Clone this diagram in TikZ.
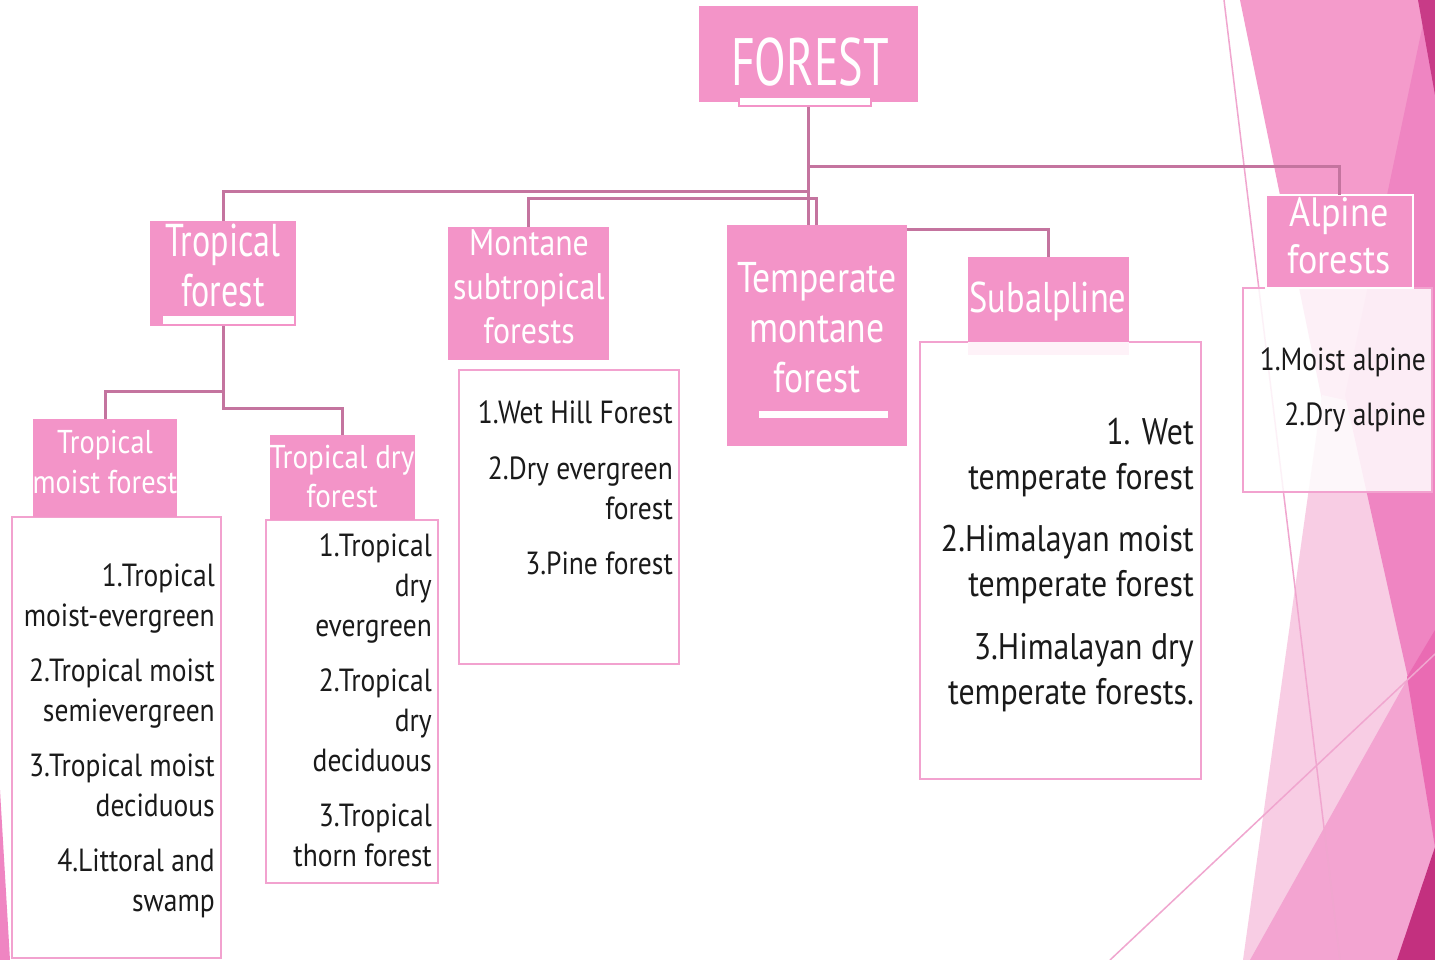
\documentclass[tikz,border=0pt]{standalone}
\usepackage{fontspec}
\setmainfont[FakeStretch=0.74]{PT Sans}
\newfontfamily\fnA[FakeStretch=0.69]{PT Sans}
\newfontfamily\fnB[FakeStretch=0.74]{PT Sans}
\newfontfamily\fnC[FakeStretch=0.80]{PT Sans}
\newfontfamily\fnD[FakeStretch=0.83]{PT Sans}
\newfontfamily\fnE[FakeStretch=0.86]{PT Sans}
\newfontfamily\fnF[FakeStretch=0.88]{PT Sans}
\newcommand\fsz[2]{\fontsize{#1}{#2}\selectfont}
\definecolor{hpink}{HTML}{F394C8}
\definecolor{bpink}{HTML}{F2A2CF}
\definecolor{linecol}{HTML}{C4749F}
\definecolor{bgmed}{HTML}{F49BCB}
\definecolor{bglight}{HTML}{F8CDE4}
\definecolor{bgdeep}{HTML}{EF85C2}
\definecolor{bgmid}{HTML}{F3A4D1}
\definecolor{bgmag}{HTML}{EA6BB3}
\definecolor{bgdark}{HTML}{C3307F}
\definecolor{bgthin}{HTML}{F0A6CF}
\definecolor{txt}{HTML}{1A1A1A}
\tikzset{
  hbox/.style={fill=hpink, draw=none, inner sep=0pt, outer sep=0pt, anchor=north west},
  cbox/.style={fill=white, draw=bpink, line width=2.5pt, inner sep=0pt, outer sep=0pt, anchor=north west},
  wbar/.style={fill=white, draw=none, inner sep=0pt, outer sep=0pt, anchor=north west},
  htext/.style={text=white, align=center, inner sep=0pt},
  ctext/.style={text=txt, align=right, inner sep=0pt, anchor=north east, font=\fnE\fsz{32}{40}},
  link/.style={draw=linecol, line width=3pt},
  thinbg/.style={draw=bgthin, line width=1.5pt},
}
\begin{document}
\begin{tikzpicture}[x=1pt,y=-1pt]
\useasboundingbox (0,0) rectangle (1435,960);
\fill[white] (0,0) rectangle (1435,960);
% background facets
\fill[bgmed] (1240,0) -- (1435,0) -- (1435,440) -- (1322,400) -- cycle;
\fill[bglight] (1322,395) -- (1435,420) -- (1435,960) -- (1243,960) -- cycle;
\fill[bgdeep] (1428,0) -- (1435,0) -- (1435,850) -- (1408,678) -- (1345,395) -- cycle;
\fill[bgmid] (1250,960) -- (1408,678) -- (1435,640) -- (1435,960) -- cycle;
\fill[bgmag] (1407,677) -- (1435,630) -- (1435,847) -- cycle;
\fill[bgdark] (1397,960) -- (1435,847) -- (1435,960) -- cycle;
\fill[bgdark!90!bgmed] (1418,0) -- (1435,0) -- (1435,95) -- cycle;
\fill[bgdeep] (0,790) -- (10,960) -- (0,960) -- cycle;
\draw[thinbg] (1224,0) -- (1340,960);
\draw[thinbg] (1110,960) -- (1435,654);

% header boxes
\node[hbox, minimum width=219pt, minimum height=96pt] (forest) at (699,6) {};
\node[hbox, minimum width=146pt, minimum height=105pt] (tropf) at (150,221) {};
\node[hbox, minimum width=161pt, minimum height=133pt] (montane) at (448,227) {};
\node[hbox, minimum width=180pt, minimum height=221pt] (temp) at (727,225) {};

% junction coordinates
\coordinate (jA) at (809,167);
\coordinate (jT) at (809,192);
\coordinate (jM) at (816,199);
\coordinate (jS) at (907,230);
\coordinate (jTM) at (223,391);
\coordinate (jTD) at (223,408);

% content boxes
\node[cbox, minimum width=209pt, minimum height=441pt] (tmoistc) at (12,517) {};
\node[cbox, minimum width=172pt, minimum height=363pt] (tdryc) at (266,520) {};
\node[cbox, minimum width=220pt, minimum height=294pt] (montanec) at (459,370) {};
\node[cbox, minimum width=281pt, minimum height=437pt] (subalpc) at (920,342) {};
\node[cbox, fill opacity=0.85, minimum width=189pt, minimum height=204pt] (alpinec) at (1243,288) {};

% remaining header boxes
\node[hbox, minimum width=144pt, minimum height=98pt] (tmoist) at (33,419) {};
\node[hbox, minimum width=145pt, minimum height=85pt] (tdry) at (270,435) {};
\node[hbox, minimum width=161pt, minimum height=85pt] (subalp) at (968,257) {};
\node[wbar, fill=hpink!12, minimum width=161pt, minimum height=13pt] (subalpbar) at (968,342) {};
\node[hbox, draw=white, line width=2.5pt, minimum width=147pt, minimum height=93pt] (alpine) at (1266,195) {};

% connectors
\draw[link] (forest.south) -- (forest.south |- temp.north);
\draw[link] (jT) -| (tropf.north);
\draw[link] (montane.north) |- (jM) -- (jM |- temp.north);
\draw[link] (jA) -| (alpine.north);
\draw[link] (jS) -| (subalp.north);
\draw[link] (tropf.south) -- (jTD) -| (tdry.north);
\draw[link] (jTM) -| (tmoist.north);

% under-bars
\node[wbar, draw=hpink, line width=2.5pt, minimum width=132pt, minimum height=9pt] (forestbar) at (739,97) {};
\node[wbar, minimum width=131pt, minimum height=8pt] (tropfbar) at (163,316) {};
\node[wbar, minimum width=129pt, minimum height=7pt] (tempbar) at (759,411) {};

% header texts
\node[htext, font=\fnA\fsz{67}{70}] (forestt) at (810,62) {FOREST};
\node[htext, font=\fnB\fsz{46}{50}] (tropft) at (223,265) {Tropical\\forest};
\node[htext, font=\fnE\fsz{33}{40}] (tmoistt) at (105,462) {Tropical\\moist forest};
\node[htext, font=\fnF\fsz{33}{39}] (tdryt) at (342,477) {Tropical dry\\forest};
\node[htext, font=\fnE\fsz{37}{44}] (montanet) at (529,287) {Montane\\subtropical\\forests};
\node[htext, font=\fnD\fsz{43}{50}] (tempt) at (817,328) {Temperate\\montane\\forest};
\node[htext, font=\fnC\fsz{43}{50}] (subalpt) at (1048,301) {Subalpline};
\node[htext, font=\fnF\fsz{41}{47}] (alpinet) at (1339,236) {Alpine\\forests};

% content texts
\node[ctext] (tmoistx) at (215,564) {1.Tropical\\moist-evergreen\\[15pt]2.Tropical moist\\semievergreen\\[15pt]3.Tropical moist\\deciduous\\[15pt]4.Littoral and\\swamp};
\node[ctext] (tdryx) at (432,534) {1.Tropical\\dry\\evergreen\\[15pt]2.Tropical\\dry\\deciduous\\[15pt]3.Tropical\\thorn forest};
\node[ctext] (montanex) at (673,401) {1.Wet Hill Forest\\[16pt]2.Dry evergreen\\forest\\[15pt]3.Pine forest};
\node[ctext, font=\fnE\fsz{37}{45}] (subalpx) at (1194,418) {1. Wet\\temperate forest\\[17pt]2.Himalayan moist\\temperate forest\\[18pt]3.Himalayan dry\\temperate forests.};
\node[ctext] (alpinex) at (1426,348) {1.Moist alpine\\[15pt]2.Dry alpine};
\end{tikzpicture}
\end{document}
